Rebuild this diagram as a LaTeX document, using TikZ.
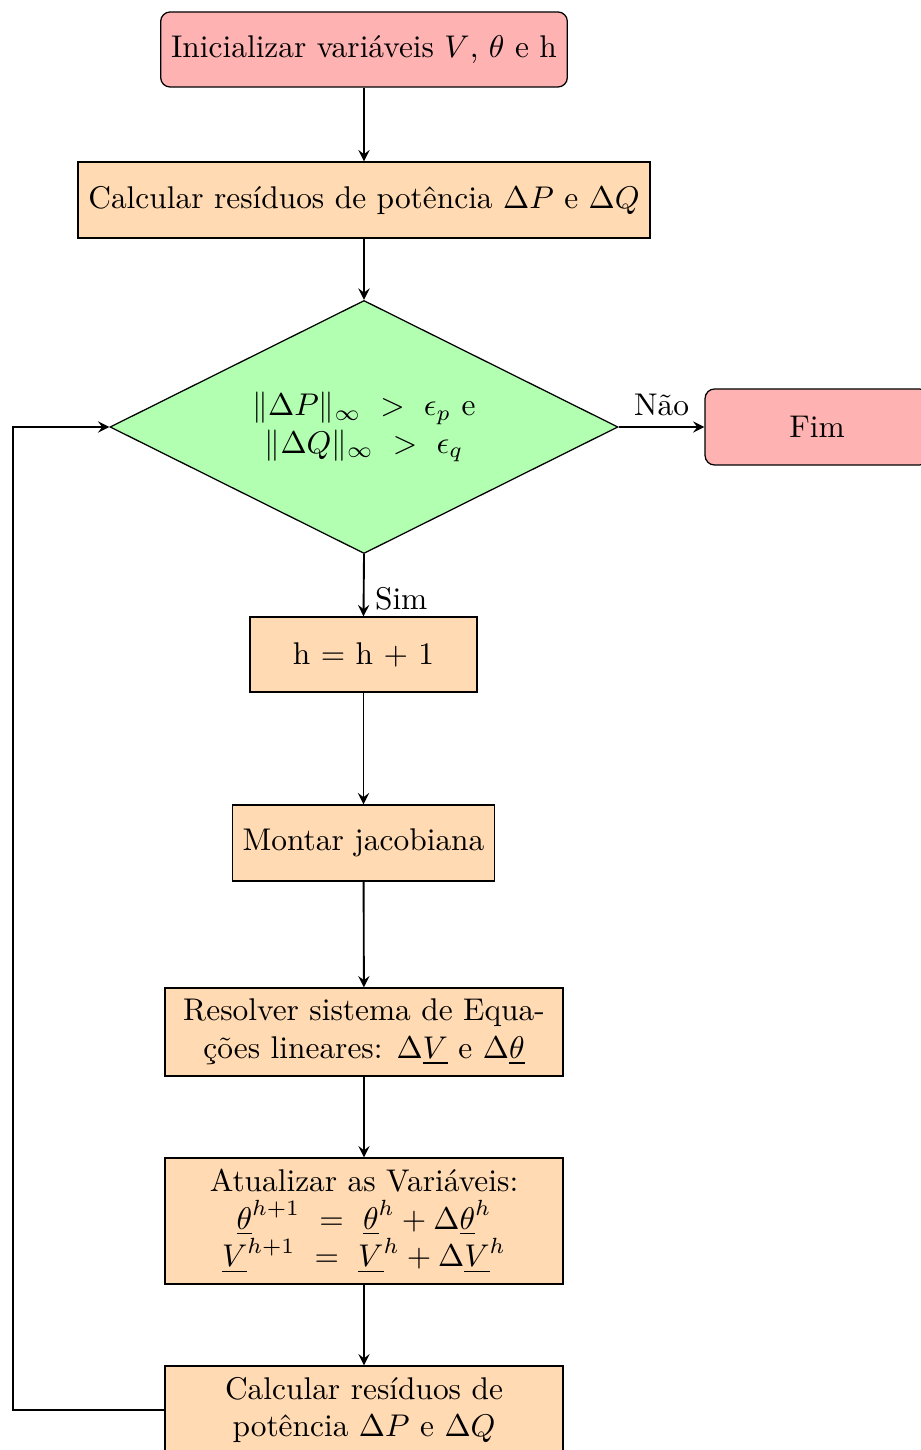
\documentclass[tikz,border=0pt]{standalone}
\usetikzlibrary{shapes.geometric,arrows.meta}
\definecolor{startpink}{RGB}{255,178,178}
\definecolor{procorange}{RGB}{255,218,178}
\definecolor{decgreen}{RGB}{178,255,178}
\tikzset{
  base/.style={draw=black, line width=0.4pt, align=center, inner sep=3.33pt},
  startstop/.style={base, fill=startpink, rounded corners=3pt},
  process/.style={base, fill=procorange},
  decision/.style={base, fill=decgreen, diamond, shape aspect=2, inner sep=0pt},
  arrow/.style={-stealth, semithick},
}
\begin{document}
\begin{tikzpicture}[x=0.3185pt,y=-0.3185pt]
\useasboundingbox (0,0) rectangle (920,1450);
\node[startstop, minimum width=129pt, minimum height=23.9pt] (init) at (364,49.5) {Inicializar variáveis $V$, $\theta$ e h};
\node[process, minimum width=180.9pt, minimum height=24.2pt] (calc) at (364,200) {Calcular resíduos de potência $\Delta P$ e $\Delta Q$};
\node[decision, minimum width=161.8pt, minimum height=80.6pt] (dec) at (364,427) {$\|\Delta P\|_\infty \ >\ \epsilon_p$ e\\ $\|\Delta Q\|_\infty \ >\ \epsilon_q$};
\node[startstop, minimum width=71.3pt, minimum height=24.2pt] (fim) at (817,427) {Fim};
\node[process, minimum width=72.3pt, minimum height=23.9pt] (inc) at (363.5,654.5) {h $=$ h $+$ 1};
\node[process, minimum width=83.1pt, minimum height=24.2pt] (jac) at (363.5,843) {Montar jacobiana};
\node[process, minimum width=126.8pt, minimum height=28pt] (solve) at (364,1032) {Resolver sistema de Equa-\\ções lineares: $\Delta\underline{V}$ e $\Delta\underline{\theta}$};
\node[process, minimum width=126.8pt, minimum height=40.1pt] (upd) at (364,1221) {Atualizar as Variáveis:\\ $\underline{\theta}^{h+1} \ =\ \underline{\theta}^{h} + \Delta\underline{\theta}^{h}$\\ $\underline{V}^{h+1} \ =\ \underline{V}^{h} + \Delta\underline{V}^{h}$};
\node[process, minimum width=126.8pt, minimum height=28pt] (calc2) at (364,1410) {Calcular resíduos de\\ potência $\Delta P$ e $\Delta Q$};
\coordinate (fb) at (13,1410);
\draw[arrow] (init) -- (calc);
\draw[arrow] (calc) -- (dec);
\draw[arrow] (dec.east) -- node[above] {Não} (fim.west);
\draw[arrow] (dec.south) -- node[pos=0.72, right] {Sim} (inc.north);
\draw[arrow] (inc) -- (jac);
\draw[arrow] (jac) -- (solve);
\draw[arrow] (solve) -- (upd);
\draw[arrow] (upd) -- (calc2);
\draw[arrow] (calc2.west) -- (fb) |- (dec.west);
\end{tikzpicture}
\end{document}
